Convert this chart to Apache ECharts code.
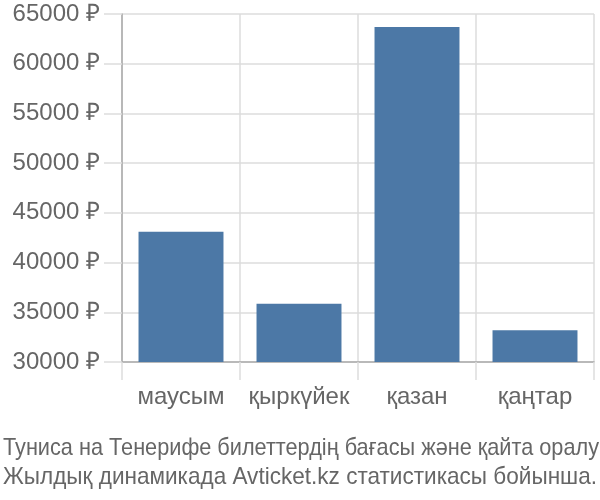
<!DOCTYPE html>
<html><head><meta charset="utf-8">
<script src="https://cdn.jsdelivr.net/npm/echarts@6/dist/echarts.min.js"></script>
<style>html,body{margin:0;padding:0;background:#fff}#c{width:600px;height:500px}</style>
</head><body><div id="c"></div>
<script>
const categories = ['маусым', 'қыркүйек', 'қазан', 'қаңтар'];
const prices = [43100, 35850, 63700, 33200];
const titleLines = ['Туниса на Тенерифе билеттердің бағасы және қайта оралу', 'Жылдық динамикада Avticket.kz статистикасы бойынша.'];

const titleFont = '24px "Liberation Sans"';
const ctx = document.createElement('canvas').getContext('2d');
ctx.font = titleFont;
const lineWidths = [596, 594];

const chart = echarts.init(document.getElementById('c'));
chart.setOption({
  animation: false,
  graphic: titleLines.map((t, i) => ({
    type: 'text', x: 3, y: 448 + i * 29, scaleX: lineWidths[i] / ctx.measureText(t).width,
    style: { text: t, font: titleFont, fill: '#666', verticalAlign: 'middle' }
  })),
  grid: { left: 122, right: 6, top: 14, bottom: 138 },
  xAxis: {
    type: 'category', data: categories,
    axisLine: { lineStyle: { color: '#aaa', width: 1.5 } },
    axisTick: { show: true, interval: 0, length: 18, lineStyle: { color: '#ddd', width: 1.5 } },
    splitLine: { show: true, interval: 0, lineStyle: { color: '#ddd', width: 1.5 } },
    axisLabel: { interval: 0, fontFamily: 'Liberation Sans', fontSize: 24, color: '#666', margin: 23 }
  },
  yAxis: {
    type: 'value', min: 30000, max: 65000, interval: 5000,
    axisLine: { show: true, lineStyle: { color: '#aaa', width: 1.5 } },
    axisTick: { show: true, length: 18, lineStyle: { color: '#ddd', width: 1.5 } },
    splitLine: { show: true, lineStyle: { color: '#ddd', width: 1.5 } },
    axisLabel: { fontFamily: 'Liberation Sans', fontSize: 24, color: '#666', margin: 22, formatter: v => v + ' ₽' }
  },
  series: [{
    type: 'bar', data: prices, barWidth: '72%',
    itemStyle: { color: '#4c78a6' }
  }]
});
</script></body></html>
